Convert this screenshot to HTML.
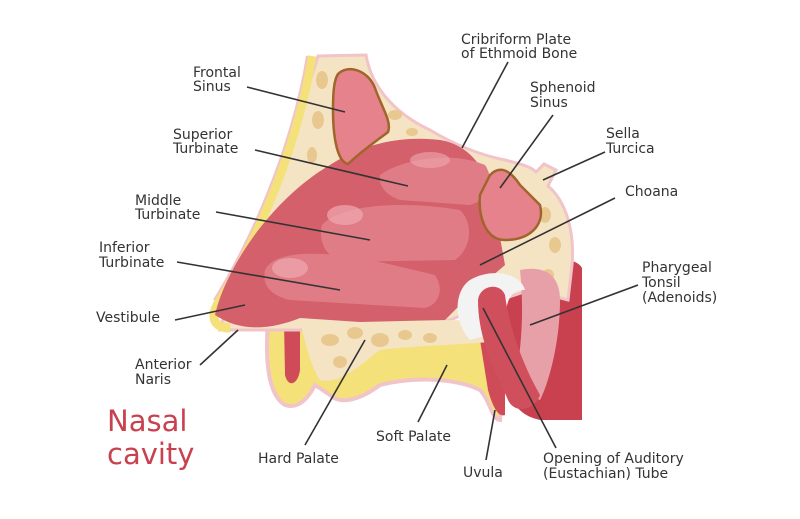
<!DOCTYPE html>
<html><head><style>
body{margin:0;background:#fff;}
svg text{font-family:"DejaVu Sans","Liberation Sans",sans-serif;font-size:14px;fill:#333;}
</style></head><body>
<svg width="800" height="514" viewBox="0 0 800 514" xmlns="http://www.w3.org/2000/svg">
<rect width="800" height="514" fill="#fff"/>
<path d="M268,322 C265,360 268,395 285,405 C300,410 310,395 315,385 L330,395 C340,405 360,400 380,385 C420,375 460,380 480,390 C490,400 492,420 500,420 L505,330 L300,320 Z" fill="#f5e17a" stroke="#f0c4c9" stroke-width="4"/>
<path d="M284,322 L300,322 L300,370 C298,385 288,388 285,375 Z" fill="#cf4b58"/>
<path d="M480,340 L505,330 L505,415 C498,418 492,405 488,390 Z" fill="#cf4b58"/>
<path d="M500,280 C540,255 575,255 582,268 L582,420 L540,420 C515,415 505,395 500,360 Z" fill="#c9404f"/>
<path d="M318,56 L366,55 C372,90 398,115 430,130 C455,145 480,155 505,160 C520,164 530,166 536,172 L544,164 L556,170 L548,186 C565,200 575,230 572,265 L568,300 L530,290 L500,300 L450,320 L300,330 L220,330 C240,250 290,150 318,56 Z" fill="#f4e4c4" stroke="#f0c4c9" stroke-width="3"/>
<path d="M300,322 L470,320 C490,325 500,330 505,340 C470,345 420,345 380,350 C360,365 340,385 320,380 C310,365 305,340 300,322 Z" fill="#f4e4c4"/>
<g fill="#e6c283" opacity="0.8">
<ellipse cx="330" cy="340" rx="9" ry="6"/><ellipse cx="355" cy="333" rx="8" ry="6"/><ellipse cx="380" cy="340" rx="9" ry="7"/><ellipse cx="405" cy="335" rx="7" ry="5"/><ellipse cx="430" cy="338" rx="7" ry="5"/><ellipse cx="340" cy="362" rx="7" ry="6"/>
<ellipse cx="322" cy="80" rx="6" ry="9"/><ellipse cx="318" cy="120" rx="6" ry="9"/><ellipse cx="312" cy="155" rx="5" ry="8"/><ellipse cx="395" cy="115" rx="7" ry="5"/><ellipse cx="412" cy="132" rx="6" ry="4"/><ellipse cx="545" cy="215" rx="6" ry="8"/><ellipse cx="555" cy="245" rx="6" ry="8"/><ellipse cx="548" cy="275" rx="6" ry="6"/>
</g>
<path d="M312,56 C300,130 268,222 220,300 C208,318 215,328 230,328" fill="none" stroke="#f5e17a" stroke-width="9"/>
<path d="M307,56 C295,130 262,222 214,300" fill="none" stroke="#f0c4c9" stroke-width="2"/>
<path d="M215,315 C225,270 270,200 330,165 C360,145 400,135 440,140 C470,145 490,170 495,210 L505,265 L470,295 L445,320 L360,322 L300,318 C270,330 240,332 215,315 Z" fill="#d4606b"/>
<path d="M380,175 C400,160 450,150 485,165 C495,180 490,200 470,205 L400,200 C385,195 378,185 380,175 Z" fill="#e07c86"/>
<path d="M322,225 C340,205 400,200 460,210 C475,225 470,250 455,260 L340,262 C325,255 318,240 322,225 Z" fill="#e07c86"/>
<path d="M265,270 C275,250 320,250 380,262 L435,275 C445,290 438,305 425,308 L290,300 C270,295 262,285 265,270 Z" fill="#e07c86"/>
<ellipse cx="290" cy="268" rx="18" ry="10" fill="#f0a8b0" opacity="0.7"/>
<ellipse cx="345" cy="215" rx="18" ry="10" fill="#f0a8b0" opacity="0.7"/>
<ellipse cx="430" cy="160" rx="20" ry="8" fill="#f0a8b0" opacity="0.6"/>
<path d="M338,74 C348,64 368,70 375,88 C382,108 392,122 388,132 C378,140 365,148 348,164 C338,162 333,140 333,110 C333,92 334,80 338,74 Z" fill="#e5828b" stroke="#a0652a" stroke-width="2.5"/>
<path d="M490,175 C500,165 510,170 520,185 L540,205 C545,225 530,240 505,240 C485,240 478,215 480,195 Z" fill="#e5828b" stroke="#a0652a" stroke-width="2.5"/>
<path d="M520,270 C545,265 560,275 560,300 C560,340 550,380 540,400 L515,390 C520,350 525,320 520,270 Z" fill="#e8a0a8"/>
<path d="M470,280 C490,268 520,272 525,290 C510,290 505,300 505,330 L470,340 C452,320 455,290 470,280 Z" fill="#f3f3f3"/>
<path d="M478,300 C480,285 500,282 505,295 C508,320 520,360 540,395 C535,410 515,415 508,400 C495,370 478,340 478,300 Z" fill="#d04f5d"/>
<g stroke="#333" stroke-width="1.6" fill="none">
<line x1="247" y1="87" x2="345" y2="112"/>
<line x1="255" y1="150" x2="408" y2="186"/>
<line x1="216" y1="212" x2="370" y2="240"/>
<line x1="177" y1="262" x2="340" y2="290"/>
<line x1="175" y1="320" x2="245" y2="305"/>
<line x1="200" y1="365" x2="238" y2="330"/>
<line x1="305" y1="445" x2="365" y2="340"/>
<line x1="418" y1="422" x2="447" y2="365"/>
<line x1="486" y1="460" x2="495" y2="410"/>
<line x1="556" y1="448" x2="483" y2="308"/>
<line x1="638" y1="285" x2="530" y2="325"/>
<line x1="615" y1="198" x2="480" y2="265"/>
<line x1="605" y1="152" x2="543" y2="180"/>
<line x1="553" y1="115" x2="500" y2="188"/>
<line x1="508" y1="62" x2="462" y2="148"/>
</g>
<text x="193" y="77">Frontal</text><text x="193" y="91">Sinus</text>
<text x="173" y="139">Superior</text><text x="173" y="153">Turbinate</text>
<text x="135" y="205">Middle</text><text x="135" y="219">Turbinate</text>
<text x="99" y="252">Inferior</text><text x="99" y="267">Turbinate</text>
<text x="96" y="322">Vestibule</text>
<text x="135" y="369">Anterior</text><text x="135" y="384">Naris</text>
<text x="258" y="463">Hard Palate</text>
<text x="376" y="441">Soft Palate</text>
<text x="463" y="477">Uvula</text>
<text x="543" y="463">Opening of Auditory</text><text x="543" y="478">(Eustachian) Tube</text>
<text x="642" y="272">Pharygeal</text><text x="642" y="287">Tonsil</text><text x="642" y="302">(Adenoids)</text>
<text x="625" y="196">Choana</text>
<text x="606" y="138">Sella</text><text x="606" y="153">Turcica</text>
<text x="530" y="92">Sphenoid</text><text x="530" y="107">Sinus</text>
<text x="461" y="44">Cribriform Plate</text><text x="461" y="58">of Ethmoid Bone</text>
<text x="107" y="431" style="font-size:29px;fill:#c8414f">Nasal</text>
<text x="107" y="464" style="font-size:29px;fill:#c8414f">cavity</text>
</svg>
</body></html>
